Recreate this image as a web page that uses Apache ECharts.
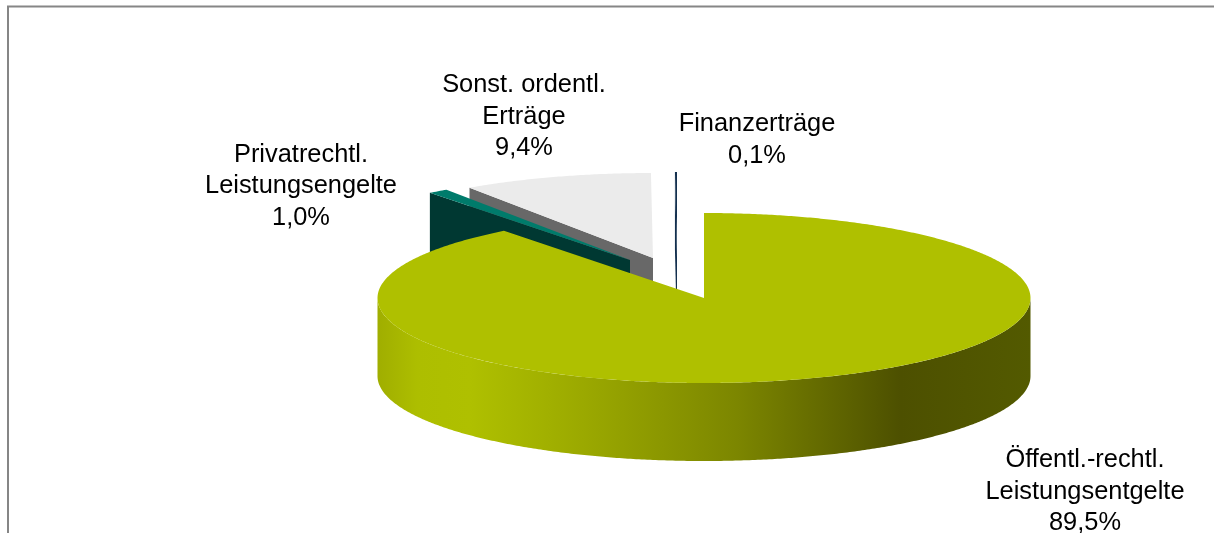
<!DOCTYPE html>
<html>
<head>
<meta charset="utf-8">
<style>html,body{margin:0;padding:0;background:#fff}#c{width:1214px;height:533px}</style>
<script src="https://cdn.jsdelivr.net/npm/echarts@6/dist/echarts.min.js"></script>
</head>
<body>
<div id="c"></div>
<script>
// Clockwise from 12 o'clock
const categories = ['Öffentl.-rechtl.\nLeistungsentgelte', 'Privatrechtl.\nLeistungsengelte', 'Sonst. ordentl.\nErträge', 'Finanzerträge'];
const shares = [89.5, 1.0, 9.4, 0.1];

// Styling / layout, kept apart from the data
const topColors = ['#afc000', '#007b6b', '#ebebeb', '#14304f'];
const faceColors = ['#4d5000', '#003832', '#686868', '#14304f'];
const explode = [[0, 0], [-74, -38], [-51, -40], [-27, -41]];
const labelPos = [[1085, 491.5], [301, 186], [524, 116.5], [757, 140]];
const CX = 704, CY = 298, RX = 326.5, RY = 85, DEPTH = 78;
const FONT = '25.4px "Liberation Sans"';

const total = shares.reduce((a, b) => a + b, 0);
const starts = [];
shares.reduce((acc, v, i) => { starts[i] = acc; return acc + v; }, 0);

function pt(deg, ox, oy, dz) {
  const r = deg * Math.PI / 180;
  return [CX + ox + RX * Math.sin(r), CY + oy - RY * Math.cos(r) + (dz || 0)];
}
function arc(a, b, ox, oy, dz) {
  const n = Math.max(2, Math.ceil(Math.abs(b - a) * 2));
  const out = [];
  for (let i = 0; i <= n; i++) out.push(pt(a + (b - a) * i / n, ox, oy, dz));
  return out;
}

const mainWall = new echarts.graphic.LinearGradient(378, 0, 1031, 0, [
  { offset: 0, color: '#a0ae00' },
  { offset: 0.06, color: '#adbe00' },
  { offset: 0.14, color: '#afc000' },
  { offset: 0.32, color: '#9aa800' },
  { offset: 0.55, color: '#7c8600' },
  { offset: 0.80, color: '#4d5000' },
  { offset: 1, color: '#535a00' }
], true);

function renderSlice(params, api) {
  const i = api.value(0);
  const value = api.value(1);
  const a0 = starts[i] / total * 360;
  const a1 = (starts[i] + value) / total * 360;
  const [ox, oy] = explode[i];
  const apex = [CX + ox, CY + oy];
  const children = [];

  if (i === 0) {
    const from = 90, to = 270;
    children.push({
      type: 'polygon',
      shape: { points: arc(from, to, ox, oy, 0).concat(arc(to, from, ox, oy, DEPTH)) },
      style: { fill: mainWall }
    });
  } else {
    // Radial cut face on the left side, extruded down
    const outer = pt(a0, ox, oy, 0);
    children.push({
      type: 'polygon',
      shape: { points: [apex, outer, [outer[0], outer[1] + DEPTH], [apex[0], apex[1] + DEPTH]] },
      style: { fill: faceColors[i] }
    });
  }
  children.push({
    type: 'polygon',
    shape: { points: [apex].concat(arc(a0, a1, ox, oy, 0)) },
    style: { fill: topColors[i] }
  });
  return { type: 'group', children };
}

function renderLabel(params, api) {
  const i = api.value(0);
  const text = categories[i] + '\n' + api.value(1).toFixed(1).replace('.', ',') + '%';
  return {
    type: 'text',
    style: {
      text, x: labelPos[i][0], y: labelPos[i][1],
      align: 'center', verticalAlign: 'middle',
      font: FONT, lineHeight: 31.5, fill: '#000'
    }
  };
}

// Painted back to front
const data = shares.map((v, i) => [i, v]).reverse();

const chart = echarts.init(document.getElementById('c'), null, { renderer: 'canvas', width: 1214, height: 533 });
chart.setOption({
  animation: false,
  backgroundColor: '#ffffff',
  graphic: [
    { type: 'line', shape: { x1: 7, y1: 6.5, x2: 1214, y2: 6.5 }, style: { stroke: '#868686', lineWidth: 2 } },
    { type: 'line', shape: { x1: 8, y1: 6, x2: 8, y2: 533 }, style: { stroke: '#868686', lineWidth: 2 } }
  ],
  series: [
    { type: 'custom', coordinateSystem: 'none', renderItem: renderSlice, data, silent: true, z: 2 },
    { type: 'custom', coordinateSystem: 'none', renderItem: renderLabel, data, silent: true, z: 3 }
  ]
});
</script>
</body>
</html>
